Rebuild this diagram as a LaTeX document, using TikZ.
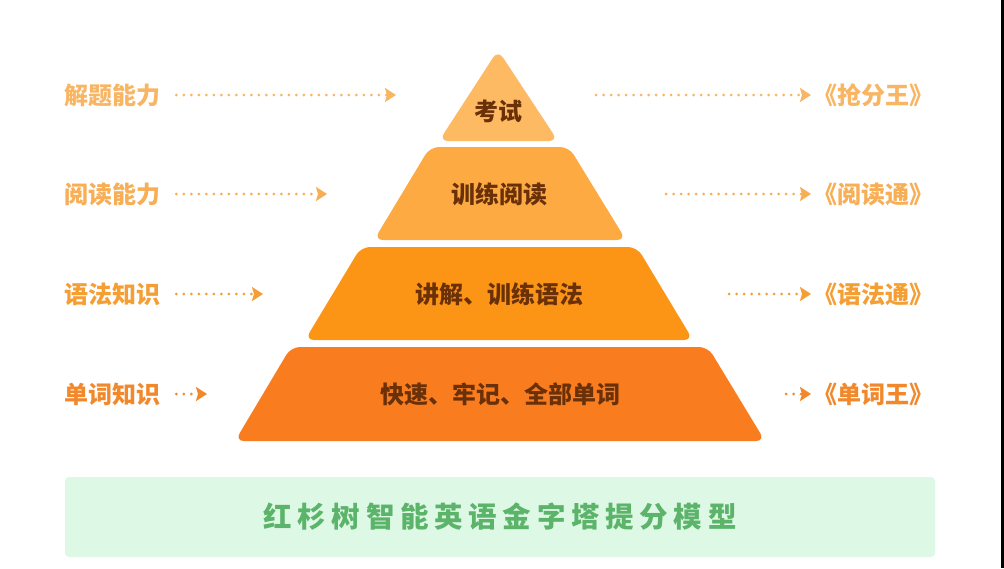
\documentclass[tikz,border=0pt]{standalone}
\usepackage{fontspec}
\newfontfamily\cjk{Noto Sans CJK SC}
\newfontfamily\cjktitle{Noto Sans CJK SC}[LetterSpace=20]
\usepackage{xcolor}
\usepackage{tikz}
\usetikzlibrary{arrows.meta,positioning,calc}

\definecolor{layerA}{HTML}{FDBA62}
\definecolor{layerB}{HTML}{FDAA42}
\definecolor{layerC}{HTML}{FC9516}
\definecolor{layerD}{HTML}{F97D1F}
\definecolor{labelA}{HTML}{F8B563}
\definecolor{labelB}{HTML}{F7AE55}
\definecolor{labelC}{HTML}{F49E33}
\definecolor{labelD}{HTML}{F1892C}
\definecolor{brown}{HTML}{6A3008}
\definecolor{titlebg}{HTML}{DEF8E6}
\definecolor{titlefg}{HTML}{5BB46A}

\begin{document}
\begin{tikzpicture}[
    x=1pt, y=-1pt,
    layer/.style={rounded corners=9pt},
    inlabel/.style={font=\cjk\bfseries\fontsize{24}{27}\selectfont, text=brown, inner sep=0pt},
    sidelabel/.style={font=\cjk\bfseries\fontsize{24}{27}\selectfont, inner sep=0pt},
    dotarrow/.style={line width=3pt, line cap=round, dash pattern=on 0pt off 7.5pt, -{Stealth[length=11pt,width=14pt,inset=2pt]}},
    titlebox/.style={rectangle, fill=titlebg, rounded corners=4pt, minimum width=870pt, minimum height=80pt, font=\cjktitle\bfseries\fontsize{28.5}{32}\selectfont, text=titlefg}
]
    \useasboundingbox (0,0) rectangle (1004,568);
    \fill[white] (0,0) rectangle (1004,568);
    \fill[black] (1001,0) rectangle (1004,568);

    % Pyramid layers (top to bottom)
    \fill[layerA, layer] (498,50) -- (558,141) -- (439,141) -- cycle;
    \fill[layerD, layer] (291,347) -- (708,347) -- (765,441) -- (235,441) -- cycle;
    \fill[layerC, layer] (361,247) -- (637,247) -- (693,340) -- (305,340) -- cycle;
    \fill[layerB, layer] (430,147) -- (569,147) -- (626,240) -- (374,240) -- cycle;

    \node[inlabel] (exam) at (498,111) {考试};
    \node[inlabel] (reading) at (499,194) {训练阅读};
    \node[inlabel] (grammar) at (499,294) {讲解、训练语法};
    \node[inlabel] (words) at (500,394) {快速、牢记、全部单词};

    % Left side: abilities
    \node[sidelabel, text=labelA, anchor=west] (solve) at (64,95) {解题能力};
    \node[sidelabel, text=labelB, anchor=west] (read) at (64,194) {阅读能力};
    \node[sidelabel, text=labelC, anchor=west] (gram) at (64,294) {语法知识};
    \node[sidelabel, text=labelD, anchor=west] (vocab) at (64,394) {单词知识};

    \coordinate (solve end) at (396,95);
    \coordinate (read end) at (327,194);
    \coordinate (gram end) at (263,294);
    \coordinate (vocab end) at (207,394);

    \draw[dotarrow, labelA, shorten <=16pt] (solve.east) -- (solve end);
    \draw[dotarrow, labelB, shorten <=16pt] (read.east) -- (read end);
    \draw[dotarrow, labelC, shorten <=16pt] (gram.east) -- (gram end);
    \draw[dotarrow, labelD, shorten <=16pt] (vocab.east) -- (vocab end);

    % Right side: books
    \node[sidelabel, text=labelA, anchor=west] (king) at (813,95) {《抢分王》};
    \node[sidelabel, text=labelB, anchor=west] (readbook) at (813,194) {《阅读通》};
    \node[sidelabel, text=labelC, anchor=west] (grambook) at (813,294) {《语法通》};
    \node[sidelabel, text=labelD, anchor=west] (wordking) at (813,394) {《单词王》};

    \coordinate (king start) at (596,95);
    \coordinate (readbook start) at (666,194);
    \coordinate (grambook start) at (729,294);
    \coordinate (wordking start) at (786,394);

    \draw[dotarrow, labelA, shorten >=2pt] (king start) -- (king.west);
    \draw[dotarrow, labelB, shorten >=2pt] (readbook start) -- (readbook.west);
    \draw[dotarrow, labelC, shorten >=2pt] (grambook start) -- (grambook.west);
    \draw[dotarrow, labelD, shorten >=2pt] (wordking start) -- (wordking.west);

    % Title bar
    \node[titlebox] (title) at (500,517) {红杉树智能英语金字塔提分模型};
\end{tikzpicture}
\end{document}
